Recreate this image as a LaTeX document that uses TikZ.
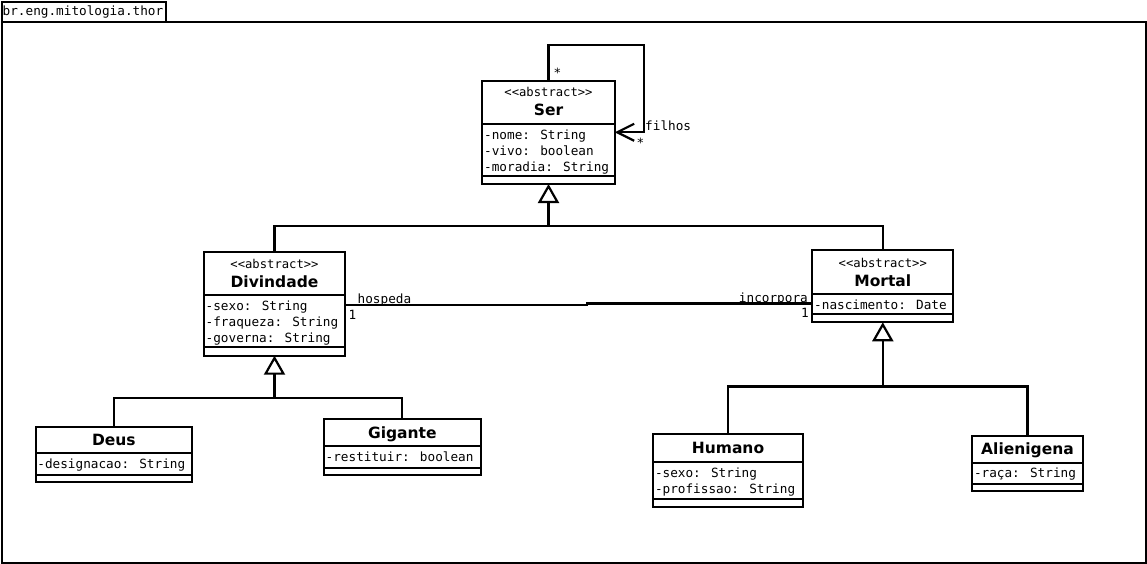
\documentclass[tikz,border=0pt]{standalone}
\usepackage{fontspec}
\newfontfamily\dvmono{DejaVu Sans Mono}
\newfontfamily\dvsans{DejaVu Sans}
\usetikzlibrary{arrows.meta}
\tikzset{
  x=1pt, y=-1pt,
  umlbox/.style={draw, line width=2.2pt, inner sep=0pt, outer sep=0pt, anchor=north west, fill=white},
  divline/.style={line width=2.2pt},
  attr/.style={font=\dvmono\fontsize{12.7}{15}\selectfont, inner sep=0pt, text height=11pt, text depth=2.4pt, anchor=west},
  lbl/.style={attr},
  cname/.style={font=\dvsans\bfseries\fontsize{15.5}{18}\selectfont, inner sep=0pt, text height=13pt, text depth=1.8pt},
  stereo/.style={font=\dvmono\fontsize{12.2}{14}\selectfont, inner sep=0pt, text height=11pt, text depth=2pt},
  conn/.style={line width=2.2pt},
  inh/.style={conn, -{Triangle[open, length=19pt, width=21pt, line width=2.2pt]}},
  selfarrow/.style={conn, -{Straight Barb[length=17pt, width=17pt, line width=2.2pt]}},
}
\begin{document}
\begin{tikzpicture}
\useasboundingbox (0,0) rectangle (1147,564);
% package frame
\node[draw, line width=1.6pt, inner sep=0pt, anchor=north west, minimum width=164pt, minimum height=20pt] (tab) at (1,1) {};
\node[lbl] (pkgname) at (2.5,11) {br.eng.mitologia.thor};
\node[draw, line width=2.2pt, inner sep=0pt, anchor=north west, minimum width=1144pt, minimum height=541pt] (frame) at (1,21) {};

% Ser
\node[umlbox, minimum width=132.4pt, minimum height=103.3pt] (ser) at (482.3,80.7) {};
\draw[divline] (482.3,124.3) -- (614.7,124.3);
\draw[divline] (482.3,176) -- (614.7,176);
\node[stereo] (serst) at (548.5,92.5) {<<abstract>>};
\node[cname] (sername) at (548.5,110) {Ser};
\node[attr] (sera1) at (484,135.3) {-nome: String};
\node[attr] (sera2) at (484,151.3) {-vivo: boolean};
\node[attr] (sera3) at (484,167.3) {-moradia: String};

% Divindade
\node[umlbox, minimum width=141pt, minimum height=104pt] (div) at (204,251.7) {};
\draw[divline] (204,295) -- (345,295);
\draw[divline] (204,346.7) -- (345,346.7);
\node[stereo] (divst) at (274.5,263.5) {<<abstract>>};
\node[cname] (divname) at (274.5,281.7) {Divindade};
\node[attr] (diva1) at (205.5,306.3) {-sexo: String};
\node[attr] (diva2) at (205.5,322.3) {-fraqueza: String};
\node[attr] (diva3) at (205.5,338.3) {-governa: String};

% Mortal
\node[umlbox, minimum width=141pt, minimum height=72.3pt] (mortal) at (812.3,250) {};
\draw[divline] (812.3,294) -- (953.3,294);
\draw[divline] (812.3,314) -- (953.3,314);
\node[stereo] (morst) at (882.8,263) {<<abstract>>};
\node[cname] (morname) at (882.8,280.7) {Mortal};
\node[attr] (mora1) at (814,305) {-nascimento: Date};

% Deus
\node[umlbox, minimum width=156.3pt, minimum height=55pt] (deus) at (35.7,426.7) {};
\draw[divline] (35.7,453.3) -- (192,453.3);
\draw[divline] (35.7,475) -- (192,475);
\node[cname] (deusname) at (113.9,440) {Deus};
\node[attr] (deusa1) at (37.2,464.3) {-designacao: String};

% Gigante
\node[umlbox, minimum width=156.7pt, minimum height=55.7pt] (gig) at (324,419.3) {};
\draw[divline] (324,446) -- (480.7,446);
\draw[divline] (324,467.7) -- (480.7,467.7);
\node[cname] (gigname) at (402.3,432.7) {Gigante};
\node[attr] (giga1) at (325.5,457) {-restituir: boolean};

% Humano
\node[umlbox, minimum width=149.4pt, minimum height=73.3pt] (hum) at (653.3,434) {};
\draw[divline] (653.3,462.3) -- (802.7,462.3);
\draw[divline] (653.3,499.3) -- (802.7,499.3);
\node[cname] (humname) at (728,448.3) {Humano};
\node[attr] (huma1) at (654.8,473) {-sexo: String};
\node[attr] (huma2) at (654.8,489) {-profissao: String};

% Alienigena
\node[umlbox, minimum width=110.4pt, minimum height=54.7pt] (ali) at (972.3,436) {};
\draw[divline] (972.3,462.7) -- (1082.7,462.7);
\draw[divline] (972.3,484.3) -- (1082.7,484.3);
\node[cname] (aliname) at (1027.5,449) {Alienigena};
\node[attr] (alia1) at (973.8,473.5) {-raça: String};

% generalizations
\coordinate (j1) at (548.5,226);
\coordinate (j2) at (274.5,398);
\coordinate (j3) at (882.8,386.5);
\draw[conn] (div.north) |- (j1);
\draw[conn] (mortal.north) |- (j1);
\draw[inh] (j1) -- (ser.south);
\draw[conn] (deus.north) |- (j2);
\draw[conn] (gig.north) |- (j2);
\draw[inh] (j2) -- (div.south);
\draw[conn] (hum.north) |- (j3);
\draw[conn] (ali.north) |- (j3);
\draw[inh] (j3) -- (mortal.south);

% self association
\coordinate (s1) at (548.5,45);
\coordinate (s2) at (644,45);
\coordinate (s3) at (644,132.3);
\draw[selfarrow] (ser.north) -- (s1) -- (s2) -- (s3) -- (ser.east |- s3);
\node[lbl] (star1) at (553.5,73.5) {*};
\node[lbl] (filhos) at (645,126) {filhos};
\node[lbl] (star2) at (636.5,143) {*};

% association hospeda / incorpora
\coordinate (a1) at (587,305);
\coordinate (a2) at (587,303.5);
\draw[conn] (div.east |- a1) -- (a1) -- (a2) -- (mortal.west |- a2);
\node[lbl] (hosp) at (357.5,299) {hospeda};
\node[lbl] (m1) at (348.5,315) {1};
\node[lbl, anchor=east] (inc) at (808,298.5) {incorpora};
\node[lbl, anchor=east] (m2) at (809,313) {1};
\end{tikzpicture}
\end{document}
